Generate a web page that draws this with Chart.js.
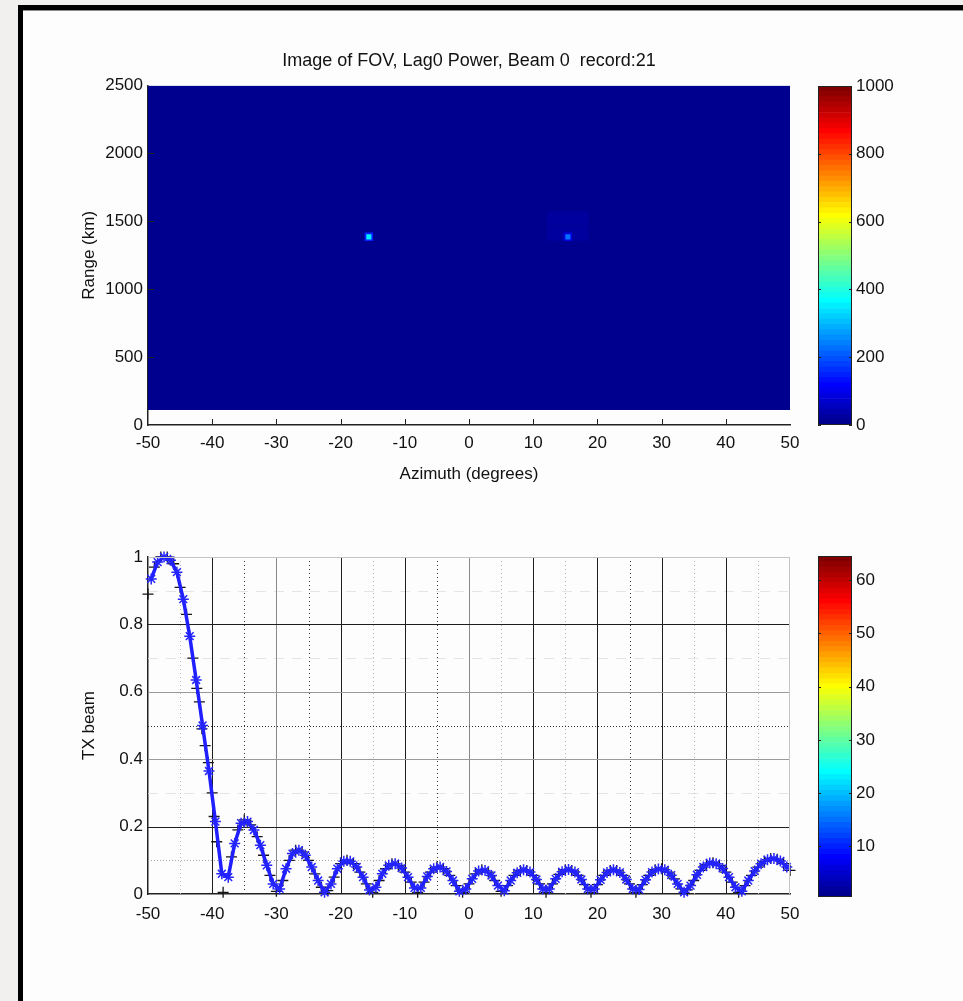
<!DOCTYPE html>
<html>
<head>
<meta charset="utf-8">
<script src="https://cdn.jsdelivr.net/npm/chart.js@4.4.1/dist/chart.umd.min.js"></script>
<style>
html,body{margin:0;padding:0;width:963px;height:1001px;overflow:hidden;background:#f1f0ee;}
#frameTop{position:absolute;left:18px;top:5px;width:945px;height:5px;background:#000;}
#frameLeft{position:absolute;left:18px;top:5px;width:5px;height:996px;background:#000;}
#panel{position:absolute;left:23px;top:10px;width:940px;height:991px;background:#fdfdfd;border-top:1px solid #8c8c8c;}
canvas{position:absolute;}
</style>
</head>
<body>
<div id="panel"></div><div id="frameTop"></div><div id="frameLeft"></div>
<canvas id="fov" width="938" height="489" style="left:0;top:0"></canvas>
<canvas id="fovBar" width="80" height="371" style="left:818px;top:70px"></canvas>
<canvas id="beam" width="810" height="440" style="left:0;top:500px"></canvas>
<canvas id="beamBar" width="80" height="373" style="left:818px;top:540px"></canvas>
<script>
// ---------------- DATA ----------------
const fovTitle = 'Image of FOV, Lag0 Power, Beam 0  record:21';
const azimuthTicks = [-50, -40, -30, -20, -10, 0, 10, 20, 30, 40, 50];
const rangeTicks = [0, 500, 1000, 1500, 2000, 2500];
const rangeCoverageKm = [110, 2500];
const backgroundPower = 0;
// bright echo cells
const echoAz = [-15.6, 15.4];
const echoRangeKm = [1386, 1386];
const echoPower = [350, 230];
// cells right around the echoes
const nearAz = [-15.6, 15.4];
const nearRangeKm = [1386, 1386];
const nearPower = [150, 90];
// faint patch around the second echo
const patchAz = [13.3, 15.4, 17.5, 13.3, 15.4, 17.5];
const patchRangeKm = [1410, 1410, 1410, 1520, 1520, 1520];
const patchPower = [20, 20, 20, 20, 20, 20];

// TX beam, black "+" series
const beamAzBlack = [-50,-49,-48,-47,-46,-45,-44,-43,-42.4,-42,-41.6,-41.1,-40.6,-40,-39.7,-39.3,-38.3,
  -37,-36,-35,-34,-33,-32,-31,-30,-29,-28,-27,-26,-25,-24,-23,-22,-21,-20,-19,-18,-17,-16,-15,-14,-13,-12,-11,-10,
  -9,-8,-7,-6,-5,-4,-3,-2,-1,0,1,2,3,4,5,6,7,8,9,10,11,12,13,14,15,16,17,18,19,20,21,22,23,24,25,26,27,28,29,30,
  31,32,33,34,35,36,37,38,39,40,41,42,43,44,45,46,47,48,49,50];
const beamBlack = [0.89,0.97,1.0,1.0,0.98,0.91,0.83,0.70,0.61,0.57,0.49,0.44,0.39,0.30,0.23,0.155,0.005,
  0.11,0.19,0.22,0.205,0.17,0.115,0.055,0.008,0.04,0.10,0.13,0.125,0.10,0.06,0.02,0.01,0.05,0.09,0.10,0.09,0.065,0.03,0.005,0.04,0.075,0.09,0.085,0.065,
  0.035,0.005,0.035,0.065,0.08,0.075,0.055,0.025,0.005,0.03,0.06,0.072,0.065,0.04,0.008,0.025,0.055,0.07,0.07,0.055,0.03,0.005,0.03,0.058,0.072,0.07,0.055,0.028,0.005,0.028,0.055,0.07,0.07,0.055,0.03,0.005,0.028,0.055,0.072,0.075,
  0.065,0.045,0.015,0.012,0.04,0.07,0.088,0.093,0.085,0.065,0.035,0.005,0.025,0.055,0.08,0.097,0.105,0.103,0.09,0.07];
// TX beam, blue "*" series
const beamAzBlue = [-49.5,-48.5,-47.5,-46.5,-45.5,-44.5,-43.5,-42.5,-41.5,-40.5,-39.5,-38.5,-37.5,-36.5,-35.5,-34.5,-33.5,-32.5,-31.5,-30.5,
  -29.5,-28.5,-27.5,-26.5,-25.5,-24.5,-23.5,-22.5,-21.5,-20.5,-19.5,-18.5,-17.5,-16.5,-15.5,-14.5,-13.5,-12.5,-11.5,-10.5,
  -9.5,-8.5,-7.5,-6.5,-5.5,-4.5,-3.5,-2.5,-1.5,-0.5,0.5,1.5,2.5,3.5,4.5,5.5,6.5,7.5,8.5,9.5,
  10.5,11.5,12.5,13.5,14.5,15.5,16.5,17.5,18.5,19.5,20.5,21.5,22.5,23.5,24.5,25.5,26.5,27.5,28.5,29.5,
  30.5,31.5,32.5,33.5,34.5,35.5,36.5,37.5,38.5,39.5,40.5,41.5,42.5,43.5,44.5,45.5,46.5,47.5,48.5,49.5];
const beamBlue = [0.935,0.985,1.0,0.99,0.955,0.875,0.765,0.635,0.50,0.365,0.215,0.06,0.05,0.15,0.21,0.215,0.19,0.145,0.085,0.03,
  0.015,0.075,0.12,0.13,0.115,0.08,0.04,0.005,0.03,0.075,0.097,0.097,0.08,0.05,0.012,0.02,0.06,0.085,0.09,0.077,
  0.05,0.018,0.018,0.052,0.075,0.08,0.067,0.04,0.008,0.015,0.045,0.068,0.07,0.055,0.025,0.01,0.04,0.063,0.072,0.065,
  0.043,0.015,0.015,0.045,0.066,0.073,0.065,0.043,0.015,0.015,0.042,0.064,0.072,0.064,0.043,0.015,0.013,0.042,0.065,0.074,
  0.072,0.056,0.03,0.005,0.025,0.057,0.08,0.092,0.09,0.076,0.05,0.02,0.008,0.04,0.068,0.09,0.102,0.105,0.098,0.08];
const beamTicks = [0, 0.2, 0.4, 0.6, 0.8, 1];

// colour bars
const powerColorRange = [0, 1000];
const powerColorTicks = [0, 200, 400, 600, 800, 1000];
const indexColorRange = [0.5, 64.5];
const indexColorTicks = [10, 20, 30, 40, 50, 60];
const jetLevels = 64;

// ---------------- STYLE HELPERS ----------------
const FONT = '"Liberation Sans Narrow","Liberation Sans",Arial,sans-serif';
Chart.defaults.font.family = FONT;
Chart.defaults.color = '#111';

function jet(t) {
  const c = x => Math.max(0, Math.min(1, x));
  const r = c(1.5 - Math.abs(4 * t - 3)), g = c(1.5 - Math.abs(4 * t - 2)), b = c(1.5 - Math.abs(4 * t - 1));
  return `rgb(${Math.round(r * 255)},${Math.round(g * 255)},${Math.round(b * 255)})`;
}
const jetLevel = k => jet(k / jetLevels);
const powerColor = p => jetLevel(Math.min(jetLevels, Math.floor((p - powerColorRange[0]) / (powerColorRange[1] - powerColorRange[0]) * jetLevels) + 1));
const pts = (xs, ys) => xs.map((x, i) => ({x, y: ys[i]}));
const plain = v => String(v);

const overlay = {
  id: 'overlay',
  beforeDatasetsDraw(chart, args, o) {
    if (!o.lines) return;
    const {ctx, chartArea: a, scales} = chart;
    ctx.save();
    ctx.beginPath(); ctx.rect(a.left, a.top, a.right - a.left, a.bottom - a.top); ctx.clip();
    for (const ln of o.lines) {
      ctx.strokeStyle = ln.color; ctx.lineWidth = ln.width || 1; ctx.setLineDash(ln.dash || []);
      for (const v of ln.values) {
        ctx.beginPath();
        if (ln.axis === 'x') { const p = Math.round(scales.x.getPixelForValue(v)) + 0.5; ctx.moveTo(p, a.top); ctx.lineTo(p, a.bottom); }
        else { const p = Math.round(scales.y.getPixelForValue(v)) + 0.5; ctx.moveTo(a.left, p); ctx.lineTo(a.right, p); }
        ctx.stroke();
      }
    }
    ctx.restore();
  },
  afterDatasetsDraw(chart, args, o) {
    const {ctx, chartArea: a, scales} = chart;
    ctx.save();
    if (o.frame) {
      ctx.strokeStyle = o.frame.color; ctx.lineWidth = 1;
      ctx.beginPath();
      if (o.frame.top) { ctx.moveTo(a.left, Math.round(a.top) + 0.5); ctx.lineTo(a.right, Math.round(a.top) + 0.5); }
      if (o.frame.right) { ctx.moveTo(Math.round(a.right) - 0.5, a.top); ctx.lineTo(Math.round(a.right) - 0.5, a.bottom); }
      if (o.frame.all) { ctx.rect(Math.round(a.left) + 0.5, Math.round(a.top) + 0.5, Math.round(a.right - a.left) - 1, Math.round(a.bottom - a.top) - 1); }
      ctx.stroke();
    }
    if (o.ticks) {
      ctx.strokeStyle = o.ticks.color; ctx.lineWidth = 1;
      for (const v of (o.ticks.x || [])) {
        const p = Math.round(scales.x.getPixelForValue(v)) + 0.5;
        ctx.beginPath(); ctx.moveTo(p, a.bottom); ctx.lineTo(p, a.bottom - o.ticks.len); ctx.stroke();
      }
      for (const v of (o.ticks.y || [])) {
        const p = Math.round(scales.y.getPixelForValue(v)) + 0.5;
        ctx.beginPath(); ctx.moveTo(a.left, p); ctx.lineTo(a.left + o.ticks.len, p);
        if (o.ticks.both) { ctx.moveTo(a.right, p); ctx.lineTo(a.right - o.ticks.len, p); }
        ctx.stroke();
      }
    }
    ctx.restore();
  }
};

const base = {responsive: false, animation: false, events: [], devicePixelRatio: 1};
const tickFont = {size: 17};

// ---------------- TOP: FOV IMAGE ----------------
// note: Chart.js draws dataset 0 on top, so the background fill comes last
new Chart(document.getElementById('fov'), {
  type: 'scatter',
  data: {datasets: [
    {data: pts(echoAz, echoRangeKm), pointStyle: 'rect', pointRadius: 3.6, borderWidth: 0,
     pointBackgroundColor: echoPower.map(powerColor)},
    {data: pts(nearAz, nearRangeKm), pointStyle: 'rect', pointRadius: 6, borderWidth: 0,
     pointBackgroundColor: nearPower.map(powerColor)},
    {data: pts(patchAz, patchRangeKm), pointStyle: 'rect', pointRadius: 10, borderWidth: 0,
     pointBackgroundColor: patchPower.map(powerColor)},
    {type: 'line', data: [{x: azimuthTicks[0], y: rangeCoverageKm[1]}, {x: azimuthTicks[azimuthTicks.length - 1], y: rangeCoverageKm[1]}],
     fill: {value: rangeCoverageKm[0]}, backgroundColor: powerColor(backgroundPower), borderWidth: 0, pointRadius: 0}
  ]},
  options: {...base,
    layout: {padding: 0},
    plugins: {legend: {display: false}, tooltip: {enabled: false},
      title: {display: true, text: fovTitle, font: {size: 18, weight: 'normal'}, color: '#111', padding: {top: 50, bottom: 14}},
      overlay: {ticks: {color: '#222', len: 6, x: azimuthTicks.slice(1, -1), y: rangeTicks.slice(1, -1)}}
    },
    scales: {
      x: {type: 'linear', min: -50, max: 50,
        afterBuildTicks: s => { s.ticks = azimuthTicks.map(v => ({value: v})); },
        afterFit: s => { s.height = 64; },
        ticks: {font: tickFont, padding: 8, maxRotation: 0, autoSkip: false, callback: plain},
        grid: {display: false, drawTicks: false}, border: {color: '#222', width: 1.5},
        title: {display: true, text: 'Azimuth (degrees)', font: {size: 17}, padding: {top: 0, bottom: 4}}},
      y: {min: 0, max: 2500,
        afterBuildTicks: s => { s.ticks = rangeTicks.map(v => ({value: v})); },
        afterFit: s => { s.width = 148; },
        ticks: {font: tickFont, padding: 5, callback: plain},
        grid: {display: false, drawTicks: false}, border: {color: '#222', width: 1.5},
        title: {display: true, text: 'Range (km)', font: {size: 17}, padding: {top: 79, bottom: 0}}},
      yR: {position: 'right', min: 0, max: 2500, afterFit: s => { s.width = 148; },
        ticks: {display: false}, grid: {display: false, drawTicks: false}, border: {display: false}}
    }
  },
  plugins: [overlay]
});

// ---------------- BOTTOM: TX BEAM ----------------
new Chart(document.getElementById('beam'), {
  type: 'scatter',
  data: {datasets: [
    {label: 'blue', data: pts(beamAzBlue, beamBlue), pointStyle: 'star', pointRadius: 5.5, pointBorderWidth: 1.5,
     borderColor: '#1f1fff', pointBorderColor: '#2424ff', borderWidth: 3.5, showLine: true, tension: 0, clip: 8},
    {label: 'black', data: pts(beamAzBlack, beamBlack), pointStyle: 'cross', pointRadius: 5.5, pointBorderWidth: 1.3,
     borderColor: '#151515', showLine: false, clip: 8}
  ]},
  options: {...base,
    layout: {padding: {top: 57, right: 20, left: 0, bottom: 0}},
    plugins: {legend: {display: false}, tooltip: {enabled: false},
      overlay: {
        lines: [
          {axis: 'y', values: [0.3, 0.7, 0.9], color: '#e4e4e4', dash: [10, 8]},
          {axis: 'x', values: [-45, -15, 5, 15, 35, 45], color: '#b8b8b8', dash: [1, 3]},
          {axis: 'x', values: [-35, -25, -5, 25], color: '#333', dash: [1, 3]},
          {axis: 'x', values: [-30, 0], color: '#8a8a8a'},
          {axis: 'x', values: [-40, -20, -10, 10, 20, 30, 40], color: '#1e1e1e'},
          {axis: 'y', values: [0.1], color: '#a8a8a8', dash: [1, 2]},
          {axis: 'y', values: [0.5], color: '#333', dash: [1, 2]},
          {axis: 'y', values: [0.4, 0.6], color: '#9a9a9a'},
          {axis: 'y', values: [0.2, 0.8], color: '#1e1e1e'}
        ],
        frame: {color: '#c4c4c4', top: true, right: true}
      }
    },
    scales: {
      x: {type: 'linear', min: -50, max: 50,
        afterBuildTicks: s => { s.ticks = azimuthTicks.map(v => ({value: v})); },
        afterFit: s => { s.height = 46; },
        ticks: {font: tickFont, padding: 10, maxRotation: 0, autoSkip: false, callback: plain},
        grid: {display: false, drawTicks: false}, border: {color: '#222', width: 1.5}},
      y: {min: 0, max: 1,
        afterBuildTicks: s => { s.ticks = beamTicks.map(v => ({value: v})); },
        afterFit: s => { s.width = 148; },
        ticks: {font: tickFont, padding: 5, callback: plain},
        grid: {display: false, drawTicks: false}, border: {color: '#222', width: 1.5},
        title: {display: true, text: 'TX beam', font: {size: 17}, padding: {top: 79, bottom: 0}}}
    }
  },
  plugins: [overlay]
});

// ---------------- COLOUR BARS ----------------
function colorBar(id, range, ticks) {
  const step = (range[1] - range[0]) / jetLevels;
  const datasets = [];
  for (let k = 1; k <= jetLevels; k++) {
    datasets.push({data: [[range[0] + (k - 1) * step, range[0] + k * step]], backgroundColor: jetLevel(k),
      borderWidth: 0, barPercentage: 1, categoryPercentage: 1, grouped: false});
  }
  new Chart(document.getElementById(id), {
    type: 'bar',
    data: {labels: ['c'], datasets},
    options: {...base,
      layout: {padding: {top: 16, bottom: 16, left: 0, right: 0}},
      plugins: {legend: {display: false}, tooltip: {enabled: false},
        overlay: {frame: {color: '#222', all: true}, ticks: {color: '#222', len: 3, y: ticks, both: true}}},
      scales: {
        x: {display: false},
        y: {position: 'right', min: range[0], max: range[1],
          afterBuildTicks: s => { s.ticks = ticks.map(v => ({value: v})); },
          afterFit: s => { s.width = 46; },
          ticks: {font: tickFont, padding: 4, callback: plain},
          grid: {display: false, drawTicks: false}, border: {display: false}}
      }
    },
    plugins: [overlay]
  });
}
colorBar('fovBar', powerColorRange, powerColorTicks);
colorBar('beamBar', indexColorRange, indexColorTicks);
</script>
</body>
</html>
